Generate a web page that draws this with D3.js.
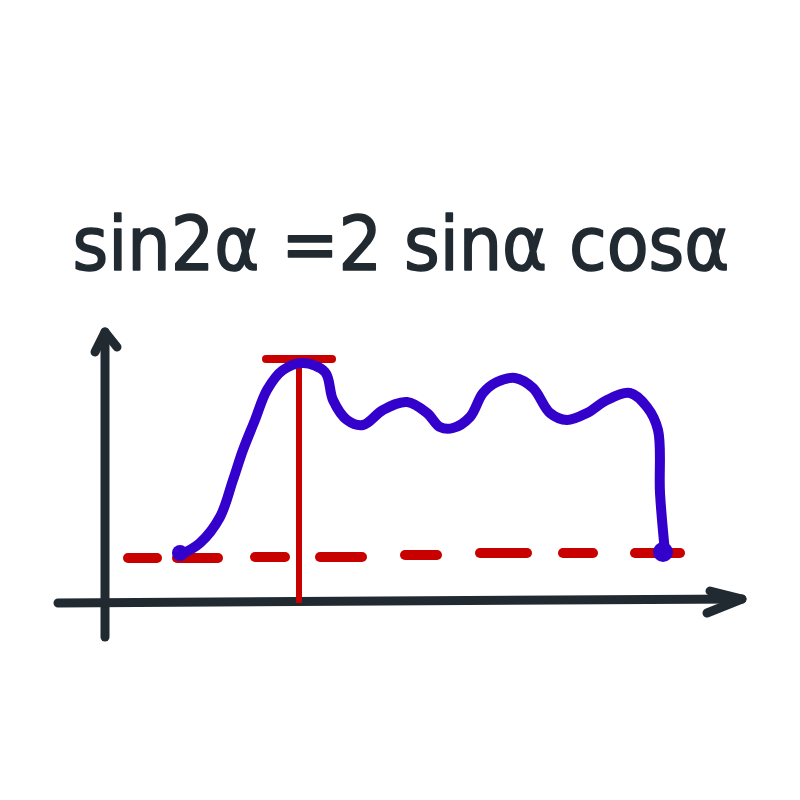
<!DOCTYPE html>
<html>
<head>
<meta charset="utf-8">
<script src="https://cdn.jsdelivr.net/npm/d3@7"></script>
<style>
  body { margin: 0; background: #fff; }
  svg { display: block; }
</style>
</head>
<body>
<svg id="chart" width="800" height="800"></svg>
<script>
// sketch values: x = distance from the y axis, y = height above the x axis
var curveX = [75, 95, 115, 128, 138, 150, 162, 178, 198, 220, 228, 242, 258, 278, 302, 322, 335, 348, 365, 378, 392, 410, 428, 445, 462, 482, 502, 525, 542, 553, 555, 560];
var curveY = [48, 60, 86, 123, 153, 183, 213, 233, 240, 231, 203, 183, 178, 193, 201, 190, 176, 175, 186, 210, 221, 225, 215, 190, 183, 190, 203, 210, 196, 173, 110, 51];

// ends of the curve
var dotX = [75, 558];
var dotY = [50, 51];
var dotR = [8, 10];

// red dashed baseline, one entry per dash
var dashStart = [23, 72, 150, 215, 300, 375, 458, 530];
var dashEnd   = [52, 113, 180, 257, 332, 422, 488, 575];
var dashY     = [45, 45, 46, 46, 48, 50, 50, 50];

// peak marker
var peakX = 194;
var peakY = 244;
var capHalf = 33;

var title = "sin2α =2 sinα cosα";

var ink = "#222a31", red = "#c80000", blue = "#3300cc";

var svg = d3.select("#chart");

var x = d3.scaleLinear().domain([0, 640]).range([105, 745]);
var y = d3.scaleLinear().domain([0, 300]).range([603, 303]);

// title
svg.append("text")
    .attr("x", 401)
    .attr("y", 270)
    .attr("text-anchor", "middle")
    .attr("textLength", 657)
    .attr("lengthAdjust", "spacingAndGlyphs")
    .attr("font-family", "'DejaVu Sans Condensed', 'DejaVu Sans', sans-serif")
    .attr("font-size", 74)
    .attr("fill", ink)
    .attr("stroke", ink)
    .attr("stroke-width", 1.5)
    .attr("stroke-linejoin", "round")
    .text(title);

var line = d3.line()
    .x(function(d){ return x(d[0]); })
    .y(function(d){ return y(d[1]); });

// axes
var axisStyle = function(sel){
  sel.attr("fill", "none")
     .attr("stroke", ink)
     .attr("stroke-width", 9)
     .attr("stroke-linecap", "round")
     .attr("stroke-linejoin", "round");
};
svg.append("path").call(axisStyle).attr("d", line([[0, -34], [0, 271]]));
svg.append("path").call(axisStyle).attr("d", line([[-10, 251], [0, 271], [12, 256]]));
svg.append("path").call(axisStyle).attr("d", line([[-47, 0], [637, 4]]));
svg.append("path").call(axisStyle).attr("d", line([[605, 12], [637, 4], [602, -10]]));

// dashed baseline
svg.append("g").selectAll("path")
  .data(dashStart)
  .enter().append("path")
    .attr("d", function(d, i){ return line([[d, dashY[i]], [dashEnd[i], dashY[i]]]); })
    .attr("stroke", red)
    .attr("stroke-width", 10)
    .attr("stroke-linecap", "round");

// peak marker
svg.append("path")
    .attr("d", line([[peakX, 0], [peakX, peakY]]))
    .attr("stroke", red)
    .attr("stroke-width", 6);
svg.append("path")
    .attr("d", line([[peakX - capHalf, peakY], [peakX + capHalf, peakY]]))
    .attr("stroke", red)
    .attr("stroke-width", 8)
    .attr("stroke-linecap", "round");

// curve
var pts = curveX.map(function(d, i){ return [d, curveY[i]]; });
svg.append("path")
    .attr("d", line.curve(d3.curveCatmullRom.alpha(0.5))(pts))
    .attr("fill", "none")
    .attr("stroke", blue)
    .attr("stroke-width", 10)
    .attr("stroke-linecap", "round")
    .attr("stroke-linejoin", "round");

svg.append("g").selectAll("circle")
  .data(dotX)
  .enter().append("circle")
    .attr("cx", function(d){ return x(d); })
    .attr("cy", function(d, i){ return y(dotY[i]); })
    .attr("r", function(d, i){ return dotR[i]; })
    .attr("fill", blue);
</script>
</body>
</html>
